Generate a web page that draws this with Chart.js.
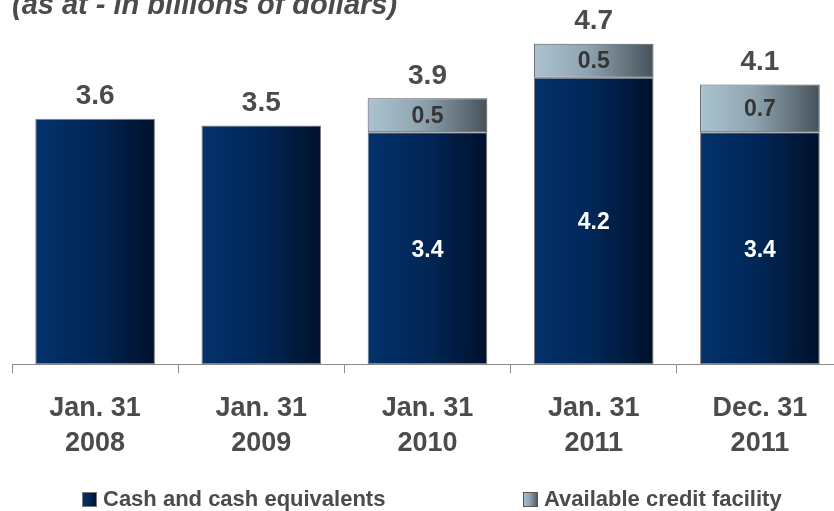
<!DOCTYPE html>
<html>
<head>
<meta charset="utf-8">
<script src="https://cdn.jsdelivr.net/npm/chart.js@4/dist/chart.umd.min.js"></script>
<style>
  html, body { margin: 0; padding: 0; background: #ffffff; overflow: hidden; }
  #wrap { position: relative; width: 844px; height: 511px; }
</style>
</head>
<body>
<div id="wrap"><canvas id="chart"></canvas></div>
<script>
// Liquidity by reporting date (billions of dollars)
const categories = [['Jan. 31', '2008'], ['Jan. 31', '2009'], ['Jan. 31', '2010'], ['Jan. 31', '2011'], ['Dec. 31', '2011']];
const cashValues = [3.6, 3.5, 3.4, 4.2, 3.4];
const creditValues = [null, null, 0.5, 0.5, 0.7];
const seriesNames = ['Cash and cash equivalents', 'Available credit facility'];
const titleText = '(as at - in billions of dollars)';

const FONT = '"Liberation Sans", Arial, Helvetica, sans-serif';
const TEXT_GRAY = '#4b4b4b';
const BAR_PCT = 0.72;

const navyStops = [[0, '#03326c'], [0.5, '#012656'], [1, '#00112b']];
const greyStops = [[0, '#abc3d0'], [0.45, '#8fa4b0'], [1, '#47525b']];

function makeGradient(c, x0, x1, stops) {
  const g = c.createLinearGradient(x0, 0, x1, 0);
  stops.forEach(s => g.addColorStop(s[0], s[1]));
  return g;
}

function barFill(stops) {
  return function (ctx) {
    const chart = ctx.chart;
    const xs = chart.scales && chart.scales.x;
    if (!xs || !chart.chartArea) return stops[1][1];
    const cx = xs.getPixelForValue(ctx.dataIndex);
    const half = (xs.width / categories.length) * BAR_PCT / 2;
    return makeGradient(chart.ctx, cx - half, cx + half, stops);
  };
}

const fmt = v => v.toFixed(1);

const labelPlugin = {
  id: 'labels',
  afterDatasetsDraw(chart) {
    const c = chart.ctx;
    const cash = chart.getDatasetMeta(0).data;
    const credit = chart.getDatasetMeta(1).data;
    c.save();
    c.textAlign = 'center';
    c.textBaseline = 'middle';
    categories.forEach((_, i) => {
      const hasCredit = creditValues[i] != null;
      const topBar = hasCredit ? credit[i] : cash[i];
      const total = cashValues[i] + (hasCredit ? creditValues[i] : 0);
      c.font = 'bold 28px ' + FONT;
      c.fillStyle = TEXT_GRAY;
      c.fillText(fmt(total), topBar.x, topBar.y - 22);
      if (hasCredit) {
        c.font = 'bold 23px ' + FONT;
        c.fillStyle = '#353535';
        c.fillText(fmt(creditValues[i]), credit[i].x, (credit[i].y + credit[i].base) / 2 + 1);
        c.fillStyle = '#ffffff';
        c.fillText(fmt(cashValues[i]), cash[i].x, (cash[i].y + cash[i].base) / 2 + 2);
      }
    });
    c.restore();
  },
  afterDraw(chart) {
    const c = chart.ctx;
    c.save();
    // heading
    c.font = 'italic bold 29px ' + FONT;
    c.fillStyle = TEXT_GRAY;
    c.textAlign = 'left';
    c.textBaseline = 'alphabetic';
    c.fillText(titleText, 12, 14);
    // legend
    const items = [
      { x: 82, stops: navyStops, border: '#7a7a7a' },
      { x: 523, stops: greyStops, border: '#555555' }
    ];
    c.font = 'bold 22px ' + FONT;
    c.textBaseline = 'middle';
    items.forEach((it, k) => {
      const bx = it.x, by = 492, bs = 15;
      c.fillStyle = makeGradient(c, bx, bx + bs, it.stops);
      c.fillRect(bx, by, bs, bs);
      c.strokeStyle = it.border;
      c.lineWidth = 1;
      c.strokeRect(bx + 0.5, by + 0.5, bs - 1, bs - 1);
      c.fillStyle = TEXT_GRAY;
      c.fillText(seriesNames[k], bx + 21, by + 8);
    });
    c.restore();
  }
};

new Chart(document.getElementById('chart'), {
  type: 'bar',
  data: {
    labels: categories,
    datasets: [
      {
        label: seriesNames[0],
        data: cashValues,
        backgroundColor: barFill(navyStops),
        borderColor: '#7d7d7d',
        borderWidth: 1,
        borderSkipped: false
      },
      {
        label: seriesNames[1],
        data: creditValues,
        backgroundColor: barFill(greyStops),
        borderColor: '#555555',
        borderWidth: 1,
        borderSkipped: false
      }
    ]
  },
  options: {
    responsive: true,
    maintainAspectRatio: false,
    animation: false,
    events: [],
    datasets: { bar: { barPercentage: BAR_PCT, categoryPercentage: 1 } },
    layout: { padding: { left: 12, right: 1, top: 0, bottom: 32 } },
    plugins: {
      legend: { display: false },
      title: { display: false },
      tooltip: { enabled: false }
    },
    scales: {
      x: {
        stacked: true,
        grid: {
          offset: true,
          drawOnChartArea: false,
          drawTicks: true,
          tickLength: 9,
          color: '#8a8a8a',
          lineWidth: 1
        },
        border: { display: true, color: '#8a8a8a', width: 1 },
        ticks: {
          color: TEXT_GRAY,
          padding: 17,
          maxRotation: 0,
          autoSkip: false,
          font: { family: FONT, size: 27, weight: 'bold', lineHeight: 1.33 }
        }
      },
      y: {
        stacked: true,
        display: false,
        min: 0,
        max: 5.34
      }
    }
  },
  plugins: [labelPlugin]
});
</script>
</body>
</html>
